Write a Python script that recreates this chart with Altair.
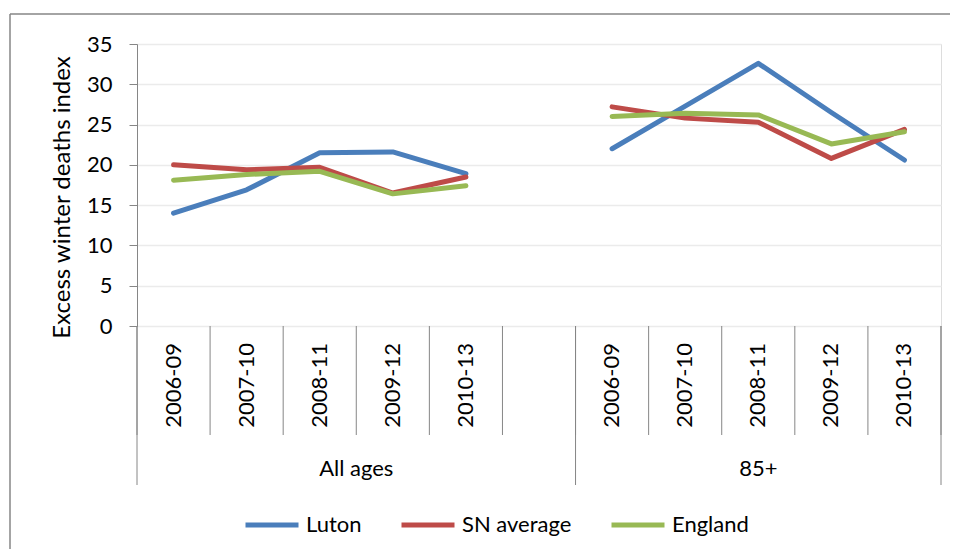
import altair as alt
import pandas as pd

# ---- data ----
periods = ["2006-09", "2007-10", "2008-11", "2009-12", "2010-13"]
groups = ["All ages", "85+"]
series = ["Luton", "SN average", "England"]
colors = ["#4a7ebb", "#be4b48", "#98b954"]

luton_all = [14.0, 16.9, 21.5, 21.6, 18.9]
sn_all = [20.0, 19.4, 19.7, 16.5, 18.5]
england_all = [18.1, 18.8, 19.2, 16.4, 17.4]

luton_85 = [22.0, 27.3, 32.6, 26.5, 20.6]
sn_85 = [27.2, 25.8, 25.3, 20.8, 24.4]
england_85 = [26.0, 26.4, 26.2, 22.6, 24.1]

values = {
    ("Luton", "All ages"): luton_all,
    ("SN average", "All ages"): sn_all,
    ("England", "All ages"): england_all,
    ("Luton", "85+"): luton_85,
    ("SN average", "85+"): sn_85,
    ("England", "85+"): england_85,
}

# ---- build tables ----
n = len(periods)
step = n + 1  # one empty slot between groups
total_slots = step * len(groups) - 1

rows = []
for s in series:
    for gi, g in enumerate(groups):
        for pi, p in enumerate(periods):
            rows.append({"series": s, "group": g, "period": p,
                         "pos": gi * step + pi + 0.5,
                         "value": values[(s, g)][pi]})
df = pd.DataFrame(rows)

labels_df = pd.DataFrame([{"period": p, "pos": gi * step + pi + 0.5}
                          for gi, g in enumerate(groups) for pi, p in enumerate(periods)])
bounds_df = pd.DataFrame({"b": list(range(0, total_slots + 1))})
group_starts = [gi * step for gi in range(len(groups))]
group_ends = [min(gi * step + step, total_slots) for gi in range(len(groups))]
gbounds_df = pd.DataFrame({"b": sorted(set(group_starts + group_ends))})
glabels_df = pd.DataFrame({"group": groups,
                           "pos": [(a + b) / 2 for a, b in zip(group_starts, group_ends)]})
one = pd.DataFrame({"a": [0]})

FONT = "Lato"
GRAY = "#868686"
W, H = 804, 282

xscale = alt.Scale(domain=[0, total_slots], nice=False, zero=False)

# chart-area frame (top and left edges visible in the reference)
frame_top = alt.Chart(one).mark_rule(color=GRAY, strokeWidth=1.5).encode(
    x=alt.value(-127), x2=alt.value(819), y=alt.value(-30))
frame_left = alt.Chart(one).mark_rule(color=GRAY, strokeWidth=1.5).encode(
    x=alt.value(-127), y=alt.value(-30), y2=alt.value(520))

rules = alt.Chart(bounds_df).mark_rule(color=GRAY, strokeWidth=1).encode(
    x=alt.X("b:Q", scale=xscale, axis=None),
    y=alt.value(H), y2=alt.value(H + 109))

grules = alt.Chart(gbounds_df).mark_rule(color=GRAY, strokeWidth=1).encode(
    x=alt.X("b:Q", scale=xscale, axis=None),
    y=alt.value(H), y2=alt.value(H + 159))

tick_labels = alt.Chart(labels_df).mark_text(
    angle=270, align="right", baseline="middle", font=FONT, fontSize=22, color="black"
).encode(
    x=alt.X("pos:Q", scale=xscale, axis=None),
    y=alt.value(H + 17),
    text="period:N")

group_labels = alt.Chart(glabels_df).mark_text(
    align="center", baseline="middle", font=FONT, fontSize=22, color="black"
).encode(
    x=alt.X("pos:Q", scale=xscale, axis=None),
    y=alt.value(H + 143),
    text="group:N")

lines = alt.Chart(df).mark_line(strokeWidth=5, strokeCap="round", strokeJoin="round").encode(
    x=alt.X("pos:Q", scale=xscale,
            axis=alt.Axis(labels=False, ticks=False, grid=False, title=None,
                          domainColor=GRAY, domainWidth=1)),
    y=alt.Y("value:Q", scale=alt.Scale(domain=[0, 35], nice=False),
            axis=alt.Axis(values=list(range(0, 36, 5)), title="Excess winter deaths index",
                          labelFont=FONT, labelFontSize=22, labelColor="black",
                          labelPadding=17, tickColor=GRAY, tickSize=8, domainColor=GRAY,
                          gridColor="#ebebeb", gridWidth=1.5,
                          titleFont=FONT, titleFontSize=24, titleFontWeight="normal",
                          titleColor="black", titleAngle=270, titleX=-75, titleY=153,
                          titleAlign="center", titleBaseline="middle")),
    color=alt.Color("series:N", scale=alt.Scale(domain=series, range=colors),
                    legend=alt.Legend(orient="none", legendX=106, legendY=452,
                                      direction="horizontal", title=None,
                                      symbolType="stroke", symbolSize=2809,
                                      symbolStrokeWidth=5, labelFont=FONT,
                                      labelFontSize=22, labelColor="black",
                                      labelOffset=5, columnPadding=29, labelLimit=400)),
    detail="group:N",
    order=alt.value(0))

chart = alt.layer(frame_top, frame_left, rules, grules, tick_labels, group_labels, lines).properties(
    width=W, height=H,
    autosize=alt.AutoSizeParams(type="none"),
    padding={"left": 129, "top": 36, "right": 9, "bottom": 223},
).configure_view(stroke=None).configure(background="white")

chart.save("out.html", embed_options={"renderer": "svg", "actions": False})
